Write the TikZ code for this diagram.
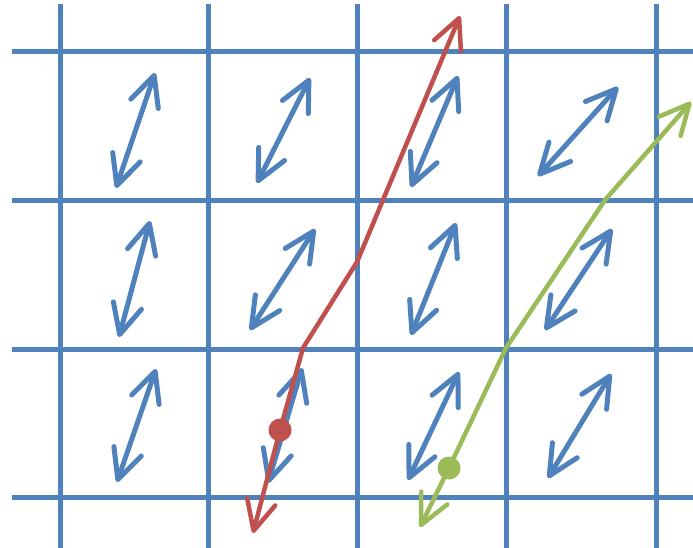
\documentclass[tikz,border=0pt]{standalone}
\usepackage{tikz}
\usepackage{xcolor}
\usetikzlibrary{arrows.meta}
\definecolor{cellblue}{HTML}{4F81BD}
\definecolor{routered}{HTML}{C0504D}
\definecolor{routegreen}{HTML}{9BBB59}

\begin{document}
\begin{tikzpicture}[x=1pt, y=-1pt, >={Straight Barb[length=30pt, width=29pt, round]},
    gridline/.style={cellblue, line width=5pt},
    flow/.style={cellblue, line width=5pt, line cap=round, <->},
    route/.style={line width=4.5pt, line cap=round, line join=round, <->},
    waypoint/.style={circle, inner sep=0pt, minimum size=23pt, fill=#1}]

  \useasboundingbox (0,0) rectangle (693,548);

  \draw[gridline] (12,52) -- (693,52);
  \draw[gridline] (12,201) -- (693,201);
  \draw[gridline] (12,349) -- (693,349);
  \draw[gridline] (12,497) -- (693,497);
  \draw[gridline] (60,4) -- (60,548);
  \draw[gridline] (208,4) -- (208,548);
  \draw[gridline] (357,4) -- (357,548);
  \draw[gridline] (506,4) -- (506,548);
  \draw[gridline] (656,4) -- (656,548);

  \draw[flow] (116,188) -- (155,73);
  \draw[flow] (257,183) -- (310,78);
  \draw[flow] (411,187) -- (458,76);
  \draw[flow] (538,176) -- (618,87);
  \draw[flow] (119,337) -- (150,221);
  \draw[flow] (250,330) -- (315,229);
  \draw[flow] (411,335) -- (456,223);
  \draw[flow] (545,330) -- (612,229);
  \draw[flow] (117,482) -- (156,369);
  \draw[flow] (268,483) -- (302,368);
  \draw[flow] (408,480) -- (459,372);
  \draw[flow] (548,478) -- (611,374);

  \node[waypoint=routered] (rdot) at (280,430) {};
  \coordinate (rlow) at (253,533);
  \coordinate (rbend) at (303,348);
  \coordinate (rmid) at (357,262);
  \coordinate (rtop) at (460,16);
  \draw[route, routered] (rlow) -- (rdot.center) -- (rbend) -- (rmid) -- (rtop);

  \node[waypoint=routegreen] (gdot) at (449,468) {};
  \coordinate (glow) at (420,527);
  \coordinate (gbend) at (506,348);
  \coordinate (gmid) at (605,200);
  \coordinate (gtop) at (691,102);
  \draw[route, routegreen] (glow) -- (gdot.center) -- (gbend) -- (gmid) -- (gtop);
\end{tikzpicture}
\end{document}
